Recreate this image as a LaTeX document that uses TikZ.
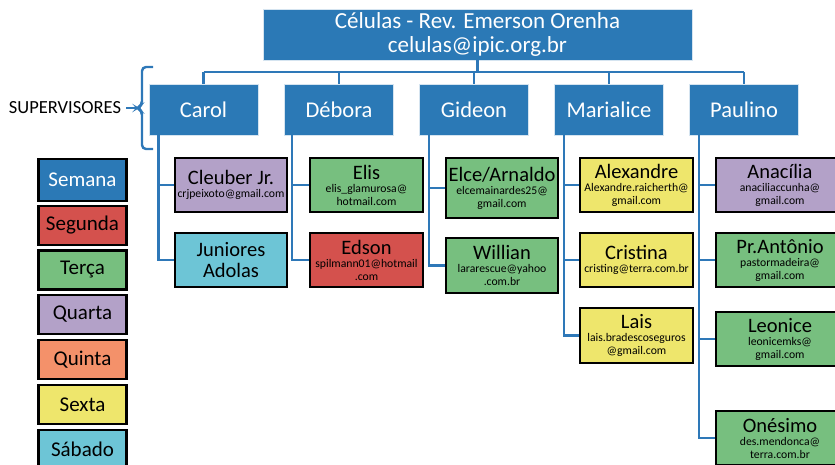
\documentclass[tikz,border=0pt]{standalone}
\usepackage{fontspec}
\setmainfont{Carlito}
\definecolor{cblue}{HTML}{2B79B6}
\definecolor{cline}{HTML}{2E78B8}
\definecolor{cred}{HTML}{D4514D}
\definecolor{cgreen}{HTML}{77BF7F}
\definecolor{cpurple}{HTML}{B3A1C8}
\definecolor{corange}{HTML}{F4916A}
\definecolor{cyellow}{HTML}{EEE66C}
\definecolor{ccyan}{HTML}{6DC5D6}
\newcommand{\cellname}[1]{{\fontsize{20.5}{20}\selectfont #1}}
\begin{document}
\begin{tikzpicture}[x=1pt,y=-1pt,
  bluebox/.style={draw=white!80!cblue, line width=0.8pt, fill=cblue, text=white, inner sep=0pt, align=center},
  title/.style={bluebox, minimum width=429pt, minimum height=51pt, font=\fontsize{23}{24}\selectfont},
  super/.style={bluebox, minimum width=109pt, minimum height=51pt, font=\fontsize{22.5}{24}\selectfont},
  childbox/.style={draw=black, line width=2.2pt, minimum width=112pt, minimum height=54pt, inner sep=0pt, align=center, font=\fontsize{11.7}{13}\selectfont},
  legbox/.style={draw=black, line width=2.2pt, minimum width=88pt, minimum height=39pt, inner sep=0pt, font=\fontsize{21}{22}\selectfont},
  conn/.style={draw=cline, line width=2.4pt}
]
\useasboundingbox (0,0) rectangle (835,464);

% title and supervisors
\node[title] (title) at (477.5,34.5) {Células - Rev. Emerson Orenha\\celulas@ipic.org.br};
\node[super] (carol) at (203.5,109.5) {Carol};
\node[super] (debora) at (339,109.5) {Débora};
\node[super] (gideon) at (474,109.5) {Gideon};
\node[super] (marialice) at (609,109.5) {Marialice};
\node[super] (paulino) at (744,109.5) {Paulino};

\coordinate (bus) at (0,72);
\draw[conn] (title.south) -- (title.south |- bus);
\draw[conn] (carol.north |- bus) -- (paulino.north |- bus);
\foreach \s in {carol,debora,gideon,marialice,paulino}
  \draw[conn] (\s.north |- bus) -- (\s.north);

% supervisors label and bracket
\node[font=\fontsize{18.5}{20}\selectfont, inner sep=0pt] (suplabel) at (65,108) {SUPERVISORES};
\coordinate (brtip) at (137,108);
\draw[conn] (suplabel.east) ++(5,0) -- (brtip);
\draw[cline, line width=2.4pt, rounded corners=4pt] (153,67) -- (142,67) -- (142,105) -- (brtip) -- (142,111) -- (142,149) -- (153,149);

% legend
\node[legbox, fill=cblue, text=white, minimum height=42pt] (lsemana) at (82.5,180) {Semana};
\node[legbox, fill=cred] (lsegunda) at (82.5,225.5) {Segunda};
\node[legbox, fill=cgreen] (lterca) at (82.5,270) {Terça};
\node[legbox, fill=cpurple] (lquarta) at (82.5,314.5) {Quarta};
\node[legbox, fill=corange] (lquinta) at (82.5,359.5) {Quinta};
\node[legbox, fill=cyellow] (lsexta) at (82.5,404.5) {Sexta};
\node[legbox, fill=ccyan] (lsabado) at (82.5,449.5) {Sábado};

% children
\node[childbox, fill=cpurple] (cleuber) at (231,185) {\cellname{Cleuber Jr.}\\crjpeixoto@gmail.com};
\node[childbox, fill=ccyan, font=\fontsize{20.5}{21}\selectfont] (juniores) at (231,260) {Juniores\\Adolas};

\node[childbox, fill=cgreen, minimum width=113pt] (elis) at (366.5,185) {\cellname{Elis}\\elis\_glamurosa@\\hotmail.com};
\node[childbox, fill=cred, minimum width=113pt] (edson) at (366.5,260) {\cellname{Edson}\\spilmann01@hotmail\\.com};

\node[childbox, fill=cgreen, minimum height=60pt] (elce) at (502,188) {\cellname{Elce/Arnaldo}\\elcemainardes25@\\gmail.com};
\node[childbox, fill=cgreen, minimum height=55pt] (willian) at (502,265.5) {\cellname{Willian}\\lararescue@yahoo\\.com.br};

\node[childbox, fill=cyellow, minimum width=113pt] (alexandre) at (636.5,185) {\cellname{Alexandre}\\Alexandre.raicherth@\\gmail.com};
\node[childbox, fill=cyellow, minimum width=113pt] (cristina) at (636.5,260) {\cellname{Cristina}\\cristing@terra.com.br};
\node[childbox, fill=cyellow, minimum width=113pt, minimum height=55pt] (lais) at (636.5,335.5) {\cellname{Lais}\\lais.bradescoseguros\\@gmail.com};

\node[childbox, fill=cpurple, minimum width=128pt] (anacilia) at (780,185) {\cellname{Anacília}\\anaciliaccunha@\\gmail.com};
\node[childbox, fill=cgreen, minimum width=128pt] (antonio) at (780,260) {\cellname{Pr.Antônio}\\pastormadeira@\\gmail.com};
\node[childbox, fill=cgreen, minimum width=128pt] (leonice) at (780,339) {\cellname{Leonice}\\leonicemks@\\gmail.com};
\node[childbox, fill=cgreen, minimum width=128pt] (onesimo) at (780,438) {\cellname{Onésimo}\\des.mendonca@\\terra.com.br};

% child connectors
\coordinate (carolx) at ([xshift=10pt]carol.south west);
\coordinate (deborax) at ([xshift=8pt]debora.south west);
\coordinate (gideonx) at ([xshift=10pt]gideon.south west);
\coordinate (marialicex) at ([xshift=10pt]marialice.south west);
\coordinate (paulinox) at ([xshift=10pt]paulino.south west);

\draw[conn] (carolx) |- (cleuber.west);
\draw[conn] (carolx) |- (juniores.west);
\draw[conn] (deborax) |- (elis.west);
\draw[conn] (deborax) |- (edson.west);
\draw[conn] (gideonx) |- (elce.west);
\draw[conn] (gideonx) |- (willian.west);
\draw[conn] (marialicex) |- (alexandre.west);
\draw[conn] (marialicex) |- (cristina.west);
\draw[conn] (marialicex) |- (lais.west);
\draw[conn] (paulinox) |- (anacilia.west);
\draw[conn] (paulinox) |- (antonio.west);
\draw[conn] (paulinox) |- (leonice.west);
\draw[conn] (paulinox) |- (onesimo.west);
\end{tikzpicture}
\end{document}
